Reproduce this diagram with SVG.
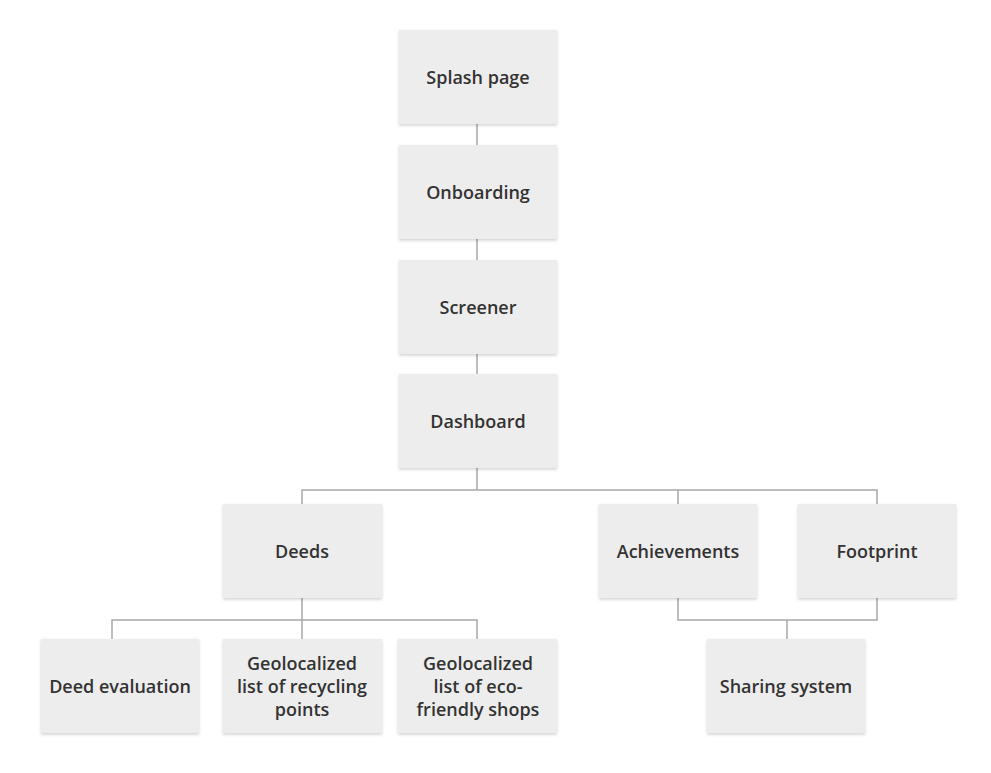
<svg xmlns="http://www.w3.org/2000/svg" width="991" height="773" viewBox="0 0 991 773">
<style>
.box{fill:#ededed;filter:url(#sh)}
.t{font-family:"Open Sans","Noto Sans",sans-serif;font-weight:600;font-size:18px;fill:#333;text-anchor:middle;dominant-baseline:central}
.c{fill:none;stroke:#a8a8a8;stroke-width:1.5}
</style>
<defs>
<filter id="sh" x="-10%" y="-10%" width="120%" height="130%">
<feDropShadow dx="0" dy="1.5" stdDeviation="1.5" flood-color="#000" flood-opacity="0.18"/>
</filter>
</defs>
<rect width="991" height="773" fill="#fff"/>
<g id="connectors">
<path class="c" d="M477 124V145M477 239V260M477 354V374"/>
<path class="c" d="M477 468V490M302 504V490H877V504M678 490V504"/>
<path class="c" d="M302 598V620M112 639V620H477V639M302 620V639"/>
<path class="c" d="M678 598V620H877V598M787 620V639"/>
</g>
<g id="splash"><rect class="box" x="399" y="30" width="158" height="94"/><text class="t" x="478" y="77">Splash page</text></g>
<g id="onboarding"><rect class="box" x="399" y="145" width="158" height="94"/><text class="t" x="478" y="192">Onboarding</text></g>
<g id="screener"><rect class="box" x="399" y="260" width="158" height="94"/><text class="t" x="478" y="307">Screener</text></g>
<g id="dashboard"><rect class="box" x="399" y="374" width="158" height="94"/><text class="t" x="478" y="421">Dashboard</text></g>
<g id="deeds"><rect class="box" x="223" y="504" width="159" height="94"/><text class="t" x="302" y="551">Deeds</text></g>
<g id="achievements"><rect class="box" x="599" y="504" width="158" height="94"/><text class="t" x="678" y="551">Achievements</text></g>
<g id="footprint"><rect class="box" x="798" y="504" width="158" height="94"/><text class="t" x="877" y="551">Footprint</text></g>
<g id="deed-evaluation"><rect class="box" x="41" y="639" width="158" height="94"/><text class="t" x="120" y="686">Deed evaluation</text></g>
<g id="recycling"><rect class="box" x="223" y="639" width="159" height="94"/><text class="t" x="302" y="663">Geolocalized</text><text class="t" x="302" y="686">list of recycling</text><text class="t" x="302" y="709">points</text></g>
<g id="shops"><rect class="box" x="398" y="639" width="159" height="94"/><text class="t" x="478" y="663">Geolocalized</text><text class="t" x="478" y="686">list of eco-</text><text class="t" x="478" y="709">friendly shops</text></g>
<g id="sharing"><rect class="box" x="707" y="639" width="158" height="94"/><text class="t" x="786" y="686">Sharing system</text></g>
</svg>
